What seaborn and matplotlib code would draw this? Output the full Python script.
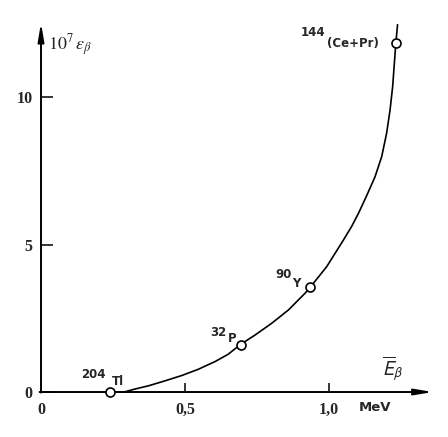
import matplotlib
matplotlib.use("Agg")
import matplotlib.pyplot as plt
import seaborn as sns

# ---- data ----
curve_x = [0.27, 0.292, 0.326, 0.373, 0.431, 0.489, 0.546, 0.604, 0.650,
           0.691, 0.743, 0.801, 0.859, 0.917, 0.934, 0.992, 1.050, 1.079,
           1.102, 1.131, 1.160, 1.183, 1.200, 1.212, 1.221, 1.232, 1.238]
curve_y = [0.0, 0.01, 0.10, 0.21, 0.38, 0.56, 0.77, 1.03, 1.28,
           1.60, 1.93, 2.33, 2.78, 3.35, 3.54, 4.25, 5.15, 5.62,
           6.05, 6.66, 7.30, 7.98, 8.77, 9.56, 10.35, 11.82, 12.45]

iso_mass = ["204", "32", "90", "144"]
iso_name = ["Tl", "P", "Y", "(Ce+Pr)"]
iso_x = [0.24, 0.694, 0.935, 1.232]
iso_y = [0.0, 1.60, 3.56, 11.83]

xticks = [0, 0.5, 1.0]
xticklabels = ["0", "0,5", "1,0"]
yticks = [0, 5, 10]
yticklabels = ["0", "5", "10"]

sns.set_theme(style="white")
plt.rcParams["font.family"] = ["DejaVu Sans"]

fig = plt.figure(figsize=(4.48, 4.37), dpi=100)
ax = fig.add_axes([0, 0, 1, 1])
ax.set_xlim(-0.1424, 1.4132)
ax.set_ylim(-1.525, 13.288)

for s in ax.spines.values():
    s.set_visible(False)
ax.spines["left"].set_position(("data", 0))
ax.spines["bottom"].set_position(("data", 0))

# axes drawn as arrows
arrow = dict(arrowstyle="-|>,head_length=0.6,head_width=0.1", lw=1.4,
             color="black", mutation_scale=18, shrinkA=0, shrinkB=0)
ax.annotate("", xy=(1.361, 0), xytext=(-0.005, 0), arrowprops=arrow)
ax.annotate("", xy=(0, 12.52), xytext=(0, -0.02), arrowprops=arrow)

# ticks
tick_font = dict(fontfamily="Liberation Serif", fontweight="bold", fontsize=11.5)
ax.set_xticks(xticks)
ax.set_xticklabels(xticklabels, **tick_font)
ax.set_yticks(yticks)
ax.set_yticklabels(yticklabels, **tick_font)
ax.tick_params(axis="x", direction="in", length=6.5, width=1.1, pad=7,
               bottom=True, top=False, color="black")
ax.tick_params(axis="y", direction="in", length=8.5, width=1.1, pad=6,
               left=True, right=False, color="black")
ax.xaxis.set_ticks_position("bottom")
ax.yaxis.set_ticks_position("left")

# curve and points
sns.lineplot(x=curve_x, y=curve_y, ax=ax, color="black", lw=1.2,
             sort=False, zorder=2)
sns.scatterplot(x=iso_x, y=iso_y, ax=ax, s=42, facecolor="white",
                edgecolor="black", linewidth=1.2, zorder=3)

# isotope labels
mass_pos = [(0.182, 0.58), (0.616, 2.03), (0.842, 3.97), (0.944, 12.17)]
name_pos = [(0.266, 0.34), (0.665, 1.80), (0.887, 3.69), (1.084, 11.83)]
for m, n, mp, np_ in zip(iso_mass, iso_name, mass_pos, name_pos):
    ax.text(mp[0], mp[1], m, ha="center", va="center", fontsize=8.5,
            fontweight="bold", family="DejaVu Sans")
    ax.text(np_[0], np_[1], n, ha="center", va="center", fontsize=8.5,
            fontweight="bold", family="DejaVu Sans")

# axis labels
ax.text(0.026, 11.74, r"$10^7\,\varepsilon_\beta$", ha="left", va="center",
        fontsize=13, math_fontfamily="stix")
ax.text(1.183, 0.8, r"$\overline{E}_\beta$", ha="left", va="center",
        fontsize=14, math_fontfamily="stixsans")
ax.text(1.16, -0.52, "MeV", ha="center", va="center", fontsize=9.5,
        fontweight="bold", family="DejaVu Sans")

fig.savefig("out.png", dpi=100, facecolor="white")
